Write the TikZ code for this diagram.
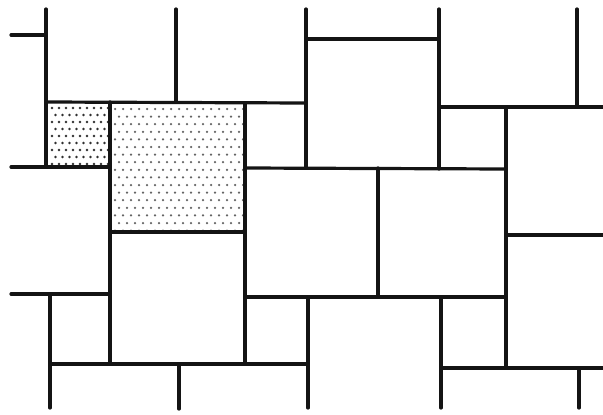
\documentclass[tikz,border=0pt]{standalone}
\definecolor{ink}{HTML}{141414}
\definecolor{dotgray}{HTML}{303030}

\begin{document}
\begin{tikzpicture}[x=1pt, y=-1pt, line width=3.2pt, line cap=round]

% Page
\useasboundingbox (0,0) rectangle (603,415);
\fill[white] (0,0) rectangle (603,415);

% Dotted tile: small square
\begin{scope}
\clip (46,102) rectangle (110,167);
\foreach \row in {0,...,9} {
  \foreach \col in {0,...,10} {
    \fill[dotgray] ({52+7*\col+3.5*mod(\row,2)},{108+7*\row}) circle (1.4pt);
  }
}
\end{scope}

% Dotted tile: large square
\begin{scope}
\clip (110,103) rectangle (245,232);
\foreach \row in {0,...,16} {
  \foreach \col in {0,...,17} {
    \fill[dotgray!75] ({115+8*\col+4*mod(\row,2)},{109+7.6*\row}) circle (1.25pt);
  }
}
\end{scope}

% Vertical joints from the top edge
\draw[ink] (46,9) -- (46,167);
\draw[ink] (176,9) -- (176,102);
\draw[ink] (306,9) -- (306,168);
\draw[ink] (439,9) -- (439,169);
\draw[ink] (577,9) -- (577,107);

% Vertical joints in the middle
\draw[ink] (110,102) -- (110,363);
\draw[ink] (245,103) -- (245,363);
\draw[ink] (378,168) -- (378,297);
\draw[ink] (506,107) -- (506,368);

% Vertical joints to the bottom edge
\draw[ink] (50,294) -- (50,408);
\draw[ink] (179,364) -- (179,409);
\draw[ink] (308,297) -- (308,408);
\draw[ink] (441,297) -- (441,408);
\draw[ink] (579,368) -- (579,408);

% Horizontal joints
\draw[ink] (11,35) -- (46,35);
\draw[ink] (46,102) -- (306,103);
\draw[ink] (306,39) -- (439,39);
\draw[ink] (439,107) -- (603,107);
\draw[ink] (11,167) -- (110,167);
\draw[ink] (245,168) -- (506,169);
\draw[ink] (110,232) -- (245,232);
\draw[ink] (506,235) -- (603,235);
\draw[ink] (11,294) -- (110,294);
\draw[ink] (245,297) -- (506,297);
\draw[ink] (50,364) -- (308,364);
\draw[ink] (441,368) -- (603,368);

\end{tikzpicture}
\end{document}
